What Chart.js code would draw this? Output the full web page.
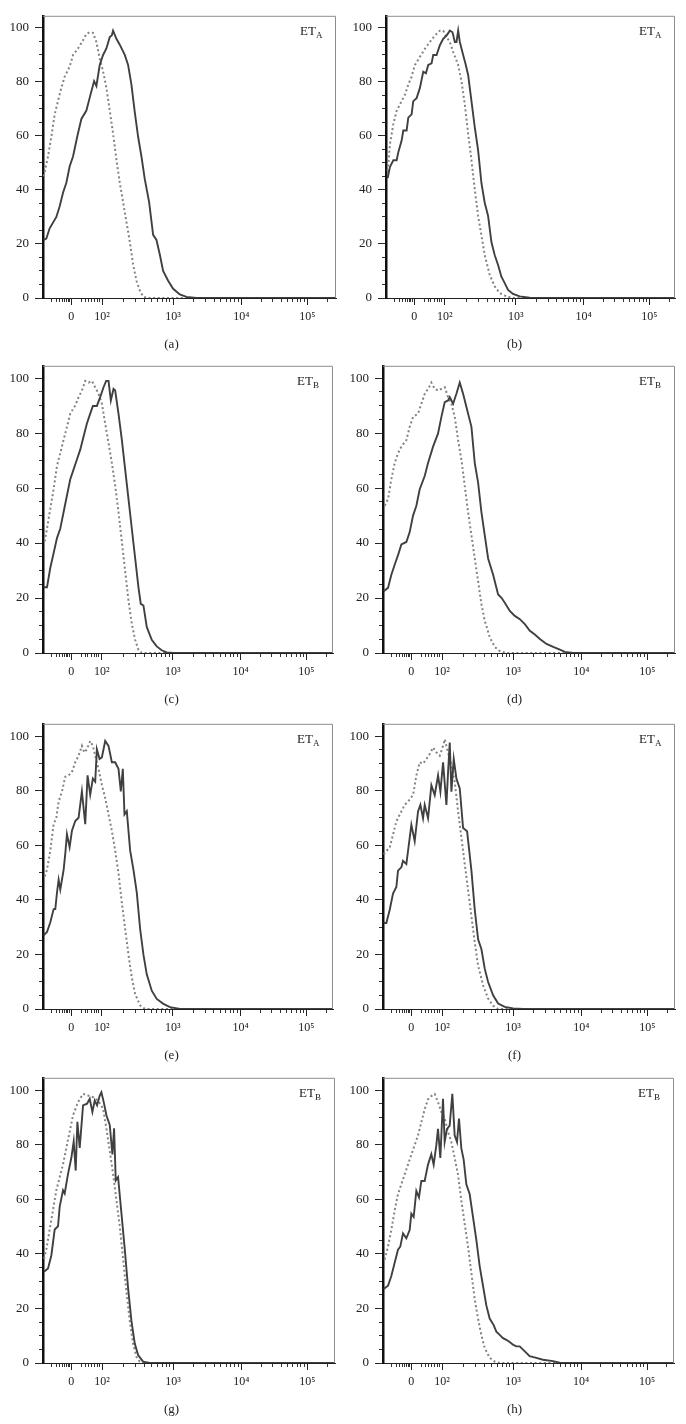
<!DOCTYPE html>
<html>
<head>
<meta charset="utf-8">
<script src="https://cdn.jsdelivr.net/npm/chart.js@4"></script>
<style>
body{margin:0;background:#fff;width:686px;height:1424px;position:relative;overflow:hidden;font-family:"Liberation Serif",serif;}
canvas.panel{position:absolute;}
.cap{position:absolute;width:343px;height:16px;line-height:16px;text-align:center;font-size:13px;color:#222;}
</style>
</head>
<body>
<script>
// x is the histogram channel along the biexponential axis, y is % of max
var panelIds = ['a', 'b', 'c', 'd', 'e', 'f', 'g', 'h'];
var panelTags = ['A', 'A', 'B', 'B', 'A', 'A', 'B', 'B'];
var axisMax = [878, 869, 872, 875, 872, 875, 875, 873];

var xTickChannels = [85, 177, 390, 594, 792];
var xTickLabels = ['0', '10²', '10³', '10⁴', '10⁵'];
var xLinearMinor = [25, 40, 50, 58, 65, 70, 75, 80, 115, 128, 135, 145, 155, 162, 168];
var yTickValues = [0, 20, 40, 60, 80, 100];

var aSolidX = [2, 10, 20, 40, 50, 60, 70, 80, 90, 103, 115, 130, 140, 153, 160, 170, 180, 190, 200, 206, 210, 220, 230, 245, 255, 265, 275, 285, 295, 305, 318, 330, 340, 350, 360, 375, 390, 410, 430, 460, 878];
var aSolidY = [21.5, 22, 25.8, 30, 34, 39, 42.7, 48.8, 52.4, 60, 66.3, 69.4, 74.2, 80.3, 78.5, 86.3, 90, 92.4, 96.6, 97.2, 99, 96, 93.8, 90, 86.3, 79, 68.8, 59.7, 52.4, 44, 35.5, 23.4, 21.5, 16.1, 10, 6.4, 3.4, 1.3, 0.4, 0, 0];
var aDotX = [2, 15, 25, 35, 45, 55, 65, 80, 90, 105, 120, 130, 140, 150, 160, 170, 180, 190, 200, 210, 220, 230, 240, 250, 260, 270, 280, 290, 300, 310, 878];
var aDotY = [45, 52.4, 59.7, 68, 73, 77.8, 82, 85.7, 90, 92.4, 95.4, 97.8, 98.4, 98.2, 94.8, 88.7, 83.9, 77.8, 69.4, 60.9, 51.2, 42.7, 35.5, 28.2, 20.9, 12.5, 6.4, 2.8, 0.6, 0, 0];

var bSolidX = [5, 12, 22, 32, 37, 47, 52, 62, 67, 77, 82, 92, 102, 112, 120, 127, 137, 142, 152, 162, 172, 182, 192, 200, 207, 212, 217, 222, 232, 240, 247, 257, 267, 277, 287, 297, 307, 317, 327, 337, 347, 357, 367, 382, 402, 432, 472, 869];
var bSolidY = [44.4, 48.6, 51, 51, 54, 58.3, 62, 62, 66.8, 68, 72.9, 74, 77.8, 83.8, 83.2, 86.3, 86.9, 90, 90, 93.6, 96, 97.2, 99, 98.4, 94.8, 94.8, 99, 94.8, 90, 86.3, 82.6, 72.9, 63.2, 54.7, 42.5, 35.2, 30.4, 20.7, 15.8, 12.2, 7.9, 5.5, 3, 1.5, 0.6, 0.1, 0, 0];
var bDotX = [5, 12, 22, 32, 47, 57, 67, 77, 87, 102, 117, 132, 147, 162, 172, 182, 192, 202, 217, 227, 237, 247, 257, 267, 277, 287, 297, 312, 327, 342, 362, 382, 869];
var bDotY = [47, 57, 64.4, 69.3, 72.9, 75.3, 79, 82, 86.3, 89.3, 92.3, 94.8, 97.2, 99, 99, 96.6, 94.8, 91.1, 86.3, 80.2, 71.7, 60.8, 51, 40.1, 30.4, 23.1, 15.8, 8.5, 4.3, 1.8, 0.6, 0, 0];

var cSolidX = [2, 12, 22, 32, 42, 52, 62, 72, 82, 92, 102, 112, 122, 132, 142, 150, 162, 172, 182, 190, 197, 204, 212, 217, 227, 237, 247, 257, 267, 277, 287, 294, 302, 312, 327, 342, 357, 372, 392, 872];
var cSolidY = [23.9, 23.9, 31, 36.4, 41.8, 45.3, 51.3, 57.3, 63.2, 66.8, 70.4, 74, 78.8, 83.5, 87.1, 89.9, 89.9, 93.1, 96.7, 99, 99, 91.9, 96.1, 95.5, 87.1, 77.6, 66.8, 56.1, 45.3, 34.6, 23.9, 17.9, 17.3, 9.5, 4.8, 2.4, 1, 0.2, 0, 0];
var cDotX = [5, 12, 22, 32, 42, 52, 62, 72, 82, 97, 107, 117, 127, 137, 147, 157, 167, 177, 187, 197, 207, 217, 227, 237, 247, 257, 267, 277, 287, 297, 872];
var cDotY = [40.6, 45.3, 52.5, 59.7, 68, 72.8, 77.6, 82.3, 87.1, 90.1, 93.1, 95.5, 99, 98.4, 99, 96.7, 94.3, 90.7, 83.5, 76.4, 69.2, 60.9, 51.3, 40.6, 29.8, 19.1, 10.7, 4.8, 1.2, 0, 0];

var dSolidX = [2, 15, 25, 35, 45, 55, 70, 80, 90, 100, 110, 125, 135, 150, 165, 175, 185, 195, 200, 210, 220, 230, 240, 250, 265, 275, 285, 295, 305, 315, 330, 345, 355, 365, 380, 395, 410, 425, 440, 455, 470, 490, 510, 530, 545, 570, 875];
var dSolidY = [22.5, 23.7, 28.5, 32.1, 35.6, 39.5, 40.4, 44, 50, 53.6, 59.6, 64.4, 69.1, 75.1, 79.9, 85.9, 91.3, 91.9, 93.1, 90.7, 94.3, 98.4, 94.3, 89.5, 82.3, 69.1, 62, 51.2, 42.8, 34.4, 28.5, 21.3, 20.1, 18.3, 15.3, 13.5, 12.3, 10.5, 8.1, 6.7, 5.1, 3.3, 2.2, 1.2, 0.4, 0, 0];
var dDotX = [5, 15, 25, 35, 45, 55, 70, 80, 90, 105, 115, 125, 138, 145, 155, 165, 175, 185, 195, 205, 215, 225, 235, 245, 255, 265, 275, 285, 295, 305, 320, 335, 350, 370, 875];
var dDotY = [53.6, 56, 63.2, 69.1, 72.7, 75.1, 77.5, 82.3, 85.9, 87.1, 90.7, 94.3, 96.7, 98.4, 96.1, 95.5, 96.1, 96.7, 93.1, 90.7, 85.9, 77.5, 70.3, 60.8, 51.2, 42.8, 34.4, 26.1, 17.7, 11.7, 5.7, 2.2, 0.7, 0, 0];

var eSolidX = [2, 12, 22, 32, 37, 42, 47, 52, 62, 67, 72, 80, 87, 97, 107, 117, 127, 134, 142, 150, 157, 162, 170, 177, 187, 197, 207, 217, 227, 234, 240, 245, 252, 262, 272, 282, 292, 302, 312, 327, 342, 362, 382, 412, 872];
var eSolidY = [27, 28.2, 31.8, 36.6, 36.6, 42.6, 47.4, 43.8, 51, 56.9, 64.1, 59.3, 65.3, 68.9, 70.1, 79.7, 67.7, 85.6, 78.5, 84.4, 83.3, 95.2, 91.6, 92.2, 98.2, 96.4, 90.4, 90.4, 88, 79.7, 88, 71.3, 72.5, 58.1, 51, 42.6, 29.4, 19.9, 12.7, 6.7, 3.7, 1.9, 0.7, 0, 0];
var eDotX = [5, 12, 22, 32, 40, 47, 57, 67, 77, 87, 97, 107, 117, 124, 132, 142, 150, 157, 167, 177, 187, 197, 207, 217, 227, 237, 247, 257, 267, 277, 292, 307, 872];
var eDotY = [48.6, 51, 58.1, 67.7, 70.1, 76, 79.7, 85.1, 85.6, 86.8, 90.4, 92.8, 96.4, 94, 95.2, 98.2, 96.4, 92.8, 88, 82.1, 77.3, 71.3, 65.3, 58.1, 49.8, 39, 29.4, 19.9, 11.5, 5.5, 1.3, 0, 0];

var fSolidX = [2, 10, 20, 30, 40, 45, 55, 60, 70, 75, 85, 95, 105, 112, 120, 125, 135, 145, 155, 165, 172, 180, 190, 195, 200, 205, 212, 220, 230, 240, 252, 265, 275, 285, 295, 305, 315, 330, 345, 365, 390, 420, 875];
var fSolidY = [31.5, 31.5, 36.3, 42.3, 44.7, 50.7, 51.9, 54.3, 53.1, 57.9, 67.5, 61.5, 72.4, 74.8, 69.9, 74.8, 69.9, 82, 78.4, 85.6, 79.6, 90.4, 74.8, 86.8, 97.6, 79.6, 91.6, 84.4, 80.8, 66.3, 65.1, 50.7, 36.3, 25.5, 21.9, 14.7, 9.9, 5, 2, 0.8, 0.2, 0, 0];
var fDotX = [2, 10, 20, 30, 40, 50, 65, 75, 90, 100, 110, 120, 130, 140, 150, 160, 170, 180, 185, 195, 205, 215, 225, 235, 245, 255, 265, 275, 285, 300, 315, 330, 345, 875];
var fDotY = [56.7, 57.9, 59.1, 63.9, 68.8, 71.2, 74.8, 76, 78.4, 85.6, 90.4, 89.9, 91.6, 93.4, 95.8, 94, 92.8, 96.4, 98.8, 94, 89.2, 83.2, 72.4, 62.7, 53.1, 43.5, 33.9, 24.3, 15.9, 8.7, 3.8, 1.2, 0, 0];

var gSolidX = [3, 15, 25, 35, 45, 50, 60, 65, 75, 85, 92, 98, 103, 110, 120, 132, 140, 148, 155, 162, 170, 175, 182, 190, 200, 208, 213, 218, 225, 235, 245, 255, 265, 275, 285, 300, 320, 875];
var gSolidY = [33.4, 34.6, 39.4, 48.9, 50.1, 57.3, 63.3, 62.1, 69.3, 75.2, 81.2, 70.5, 88.4, 78.8, 94.4, 95, 96.8, 92, 96.2, 94.4, 98, 99.2, 95.6, 90.8, 87.2, 76.4, 86, 66.9, 68.1, 54.9, 41.7, 27.4, 15.4, 7.1, 2.9, 0.5, 0, 0];
var gDotX = [3, 10, 20, 30, 40, 50, 60, 70, 80, 90, 105, 120, 135, 150, 165, 180, 190, 200, 210, 220, 230, 240, 250, 260, 270, 280, 290, 300, 875];
var gDotY = [38.2, 41.7, 48.9, 56.1, 63.3, 68.1, 72.8, 78.8, 84.8, 90.8, 95.6, 98.6, 98, 97.4, 96.2, 93.2, 86, 77.6, 69.3, 59.7, 50.1, 38.2, 26.2, 15.4, 7.1, 2.3, 0.5, 0, 0];

var hSolidX = [2, 15, 25, 35, 45, 52, 60, 70, 80, 85, 92, 100, 108, 115, 125, 135, 145, 152, 160, 165, 172, 180, 185, 192, 200, 208, 215, 222, 228, 235, 242, 250, 260, 270, 280, 290, 300, 310, 320, 332, 340, 350, 360, 370, 380, 390, 400, 410, 420, 440, 460, 480, 510, 530, 560, 873];
var hSolidY = [27.1, 28.3, 31.9, 36.7, 41.5, 42.7, 47.5, 45.7, 48.7, 54.7, 53.5, 63.1, 60.7, 66.7, 66.7, 72.7, 76.5, 72.7, 79.8, 85.8, 75.1, 96.8, 81, 85.8, 87, 98.6, 83.4, 81, 89.6, 78.6, 74.5, 65.5, 61.9, 53.5, 45.1, 35.5, 28.3, 21.1, 16.3, 13.9, 11.5, 10.3, 9.1, 8.5, 7.7, 6.7, 6.1, 6.1, 4.9, 2.5, 1.9, 1.2, 0.7, 0.1, 0, 0];
var hDotX = [5, 15, 25, 35, 45, 55, 65, 75, 85, 95, 105, 115, 125, 135, 145, 155, 165, 175, 185, 195, 205, 215, 225, 235, 245, 255, 265, 275, 285, 295, 305, 320, 335, 350, 873];
var hDotY = [37.9, 42.7, 48.7, 55.9, 61.9, 65.5, 69.1, 72.7, 76.3, 79.8, 83.4, 88.2, 93, 96.6, 97.8, 98.6, 95.6, 92, 89.6, 84.8, 81, 75.1, 69.1, 59.5, 51.1, 42.7, 33.1, 23.5, 16.3, 10.3, 5.5, 1.9, 0.5, 0, 0];

var series = {
	a: [aSolidX, aSolidY, aDotX, aDotY],
	b: [bSolidX, bSolidY, bDotX, bDotY],
	c: [cSolidX, cSolidY, cDotX, cDotY],
	d: [dSolidX, dSolidY, dDotX, dDotY],
	e: [eSolidX, eSolidY, eDotX, eDotY],
	f: [fSolidX, fSolidY, fDotX, fDotY],
	g: [gSolidX, gSolidY, gDotX, gDotY],
	h: [hSolidX, hSolidY, hDotX, hDotY]
};

// page layout (pixels)
var COL_W = 343;
var rowTop = [10, 360, 718, 1072];
var rowBottom = [298, 653, 1009, 1363];
var plotLeft = [43, 43, 43, 40, 43, 40, 43, 40];
var plotRight = [336, 332, 333, 332, 333, 332, 335, 331];
var PAD_TOP = 8, XAXIS_H = 40, Y_MAX = 104.5;
var SERIF = '"Liberation Serif", "Times New Roman", serif';

function pts(xs, ys){
	return xs.map(function(x, i){ return {x: x, y: ys[i]}; });
}

function xMinorTicks(max){
	var out = xLinearMinor.slice();
	for (var d = 1; d < xTickChannels.length; d++){
		var p0 = xTickChannels[d];
		var p1 = d + 1 < xTickChannels.length ? xTickChannels[d + 1] : p0 + (xTickChannels[d] - xTickChannels[d - 1]);
		for (var k = 2; k <= 9; k++){
			var p = p0 + Math.log10(k) * (p1 - p0);
			if (p < max) out.push(p);
		}
	}
	return out;
}

function yMinorTicks(){
	var out = [];
	for (var v = 0; v <= 100; v += 5) out.push(v);
	return out;
}

var framePlugin = {
	id: 'frame',
	afterDraw: function(chart, args, opts){
		var a = chart.chartArea, ctx = chart.ctx;
		ctx.save();
		ctx.strokeStyle = '#8d8d8d';
		ctx.lineWidth = 1;
		ctx.beginPath();
		ctx.moveTo(a.left, a.top + 0.5);
		ctx.lineTo(a.right - 0.5, a.top + 0.5);
		ctx.lineTo(a.right - 0.5, a.bottom);
		ctx.stroke();
		// ET label with subscript
		ctx.fillStyle = '#222';
		ctx.textBaseline = 'alphabetic';
		ctx.font = '13px ' + SERIF;
		var x0 = a.right - 36, y0 = a.top + 19;
		ctx.fillText('ET', x0, y0);
		var w = ctx.measureText('ET').width;
		ctx.font = '9px ' + SERIF;
		ctx.fillText(opts.tag, x0 + w, y0 + 3);
		ctx.restore();
	}
};

function makePanel(idx){
	var id = panelIds[idx];
	var col = idx % 2, row = Math.floor(idx / 2);
	var l = plotLeft[idx], r = plotRight[idx], mx = axisMax[idx];
	var h = PAD_TOP + (rowBottom[row] - rowTop[row]) + XAXIS_H;

	var cv = document.createElement('canvas');
	cv.className = 'panel';
	cv.width = COL_W;
	cv.height = h;
	cv.style.left = (col * COL_W) + 'px';
	cv.style.top = (rowTop[row] - PAD_TOP) + 'px';
	document.body.appendChild(cv);

	var cap = document.createElement('div');
	cap.className = 'cap';
	cap.style.left = (col * COL_W) + 'px';
	cap.style.top = (rowBottom[row] + 38) + 'px';
	cap.textContent = '(' + id + ')';
	document.body.appendChild(cap);

	var s = series[id];
	var minorX = xMinorTicks(mx);

	new Chart(cv, {
		type: 'line',
		data: {
			datasets: [{
				data: pts(s[0], s[1]),
				borderColor: '#404040',
				borderWidth: 1.9,
				pointRadius: 0,
				tension: 0
			}, {
				data: pts(s[2], s[3]),
				borderColor: '#828282',
				borderWidth: 2,
				borderDash: [2, 2.6],
				pointRadius: 0,
				tension: 0
			}]
		},
		options: {
			responsive: false,
			animation: false,
			events: [],
			layout: {padding: {top: PAD_TOP, right: COL_W - r, left: 0, bottom: 0}},
			plugins: {
				legend: {display: false},
				tooltip: {enabled: false},
				frame: {tag: panelTags[idx]}
			},
			scales: {
				x: {
					type: 'linear', position: 'bottom', weight: 1, min: 0, max: mx,
					afterBuildTicks: function(sc){ sc.ticks = xTickChannels.map(function(v){ return {value: v}; }); },
					afterFit: function(sc){ sc.height = XAXIS_H; },
					ticks: {
						autoSkip: false, maxRotation: 0, padding: 5, color: '#222',
						font: {family: SERIF, size: 12},
						callback: function(v, i){ return xTickLabels[i]; }
					},
					grid: {drawOnChartArea: false, tickLength: 7, color: '#222'},
					border: {color: '#222', width: 1}
				},
				xm: {
					type: 'linear', position: 'bottom', weight: 0, min: 0, max: mx,
					afterBuildTicks: function(sc){ sc.ticks = minorX.map(function(v){ return {value: v}; }); },
					afterFit: function(sc){ sc.height = 0; },
					ticks: {display: false},
					grid: {drawOnChartArea: false, tickLength: 4, color: '#333'},
					border: {display: false}
				},
				y: {
					type: 'linear', position: 'left', weight: 1, min: 0, max: Y_MAX,
					afterBuildTicks: function(sc){ sc.ticks = yTickValues.map(function(v){ return {value: v}; }); },
					afterFit: function(sc){ sc.width = l; },
					ticks: {
						padding: 6, color: '#222',
						font: {family: SERIF, size: 13},
						callback: function(v){ return String(v); }
					},
					grid: {drawOnChartArea: false, tickLength: 8, color: '#222'},
					border: {color: '#111', width: 2.5}
				},
				ym: {
					type: 'linear', position: 'left', weight: 0, min: 0, max: Y_MAX,
					afterBuildTicks: function(sc){ sc.ticks = yMinorTicks().map(function(v){ return {value: v}; }); },
					afterFit: function(sc){ sc.width = 0; },
					ticks: {display: false},
					grid: {drawOnChartArea: false, tickLength: 4, color: '#333'},
					border: {display: false}
				}
			}
		},
		plugins: [framePlugin]
	});
}

for (var i = 0; i < panelIds.length; i++){
	makePanel(i);
}
</script>
</body>
</html>
